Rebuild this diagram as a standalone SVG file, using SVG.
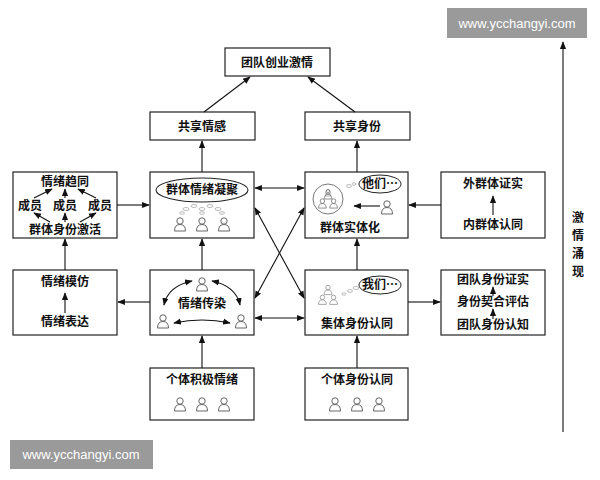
<svg xmlns="http://www.w3.org/2000/svg" width="600" height="480" viewBox="0 0 600 480">
<defs>
<marker id="a" viewBox="0 0 10 10" refX="9" refY="5" markerWidth="7" markerHeight="7" orient="auto-start-reverse"><path d="M0,1 L10,5 L0,9 z" fill="#111"/></marker>
<g id="p" fill="none" stroke="#666" stroke-width="1"><circle cx="0" cy="-4" r="3.2"/><path d="M-5.5,6 Q-5.5,-0.5 0,-0.5 Q5.5,-0.5 5.5,6 z"/></g>
<style>
.b{fill:#fff;stroke:#222;stroke-width:1.2}
.t{font-family:"Noto Sans CJK SC","Noto Sans",sans-serif;font-size:12px;font-weight:bold;fill:#111;text-anchor:middle}
.c line,.c path{stroke:#111;stroke-width:1.1;fill:none;marker-end:url(#a)}
.d{marker-start:url(#a)}
.w{font-family:"Liberation Sans",sans-serif;font-size:13px;fill:#fff;text-anchor:middle}
</style>
</defs>
<rect width="600" height="480" fill="#fff"/>
<g id="top"><rect class="b" x="225" y="48" width="105" height="28"/><text class="t" x="277" y="67">团队创业激情</text></g>
<g id="gxqg"><rect class="b" x="150" y="112" width="105" height="28"/><text class="t" x="202" y="131">共享情感</text></g>
<g id="gxsf"><rect class="b" x="305" y="112" width="105" height="28"/><text class="t" x="357" y="131">共享身份</text></g>
<g id="qxqt"><rect class="b" x="13" y="172" width="104" height="66"/>
<text class="t" x="65" y="186">情绪趋同</text>
<text class="t" x="30" y="210">成员</text><text class="t" x="65" y="210">成员</text><text class="t" x="100" y="210">成员</text>
<text class="t" x="65" y="234">群体身份激活</text>
<g class="c"><line x1="34" y1="198" x2="52" y2="189"/><line x1="65" y1="198" x2="65" y2="189"/><line x1="96" y1="198" x2="78" y2="189"/>
<line x1="50" y1="222" x2="34" y2="213"/><line x1="65" y1="222" x2="65" y2="213"/><line x1="80" y1="222" x2="96" y2="213"/></g></g>
<g id="qtqxnj"><rect class="b" x="150" y="172" width="104" height="66"/>
<ellipse cx="202" cy="190" rx="46" ry="12" fill="none" stroke="#222" stroke-width="1.1"/>
<text class="t" x="202" y="194">群体情绪凝聚</text>
<g fill="none" stroke="#aaa" stroke-width="0.8"><ellipse cx="186" cy="209" rx="3" ry="1.5"/><ellipse cx="182" cy="213" rx="2.5" ry="1.3"/><ellipse cx="202" cy="209" rx="3" ry="1.5"/><ellipse cx="202" cy="213" rx="2.5" ry="1.3"/><ellipse cx="218" cy="209" rx="3" ry="1.5"/><ellipse cx="222" cy="213" rx="2.5" ry="1.3"/><ellipse cx="194" cy="206" rx="3" ry="1.5"/><ellipse cx="210" cy="206" rx="3" ry="1.5"/></g>
<use href="#p" x="180" y="225"/><use href="#p" x="202" y="225"/><use href="#p" x="224" y="225"/></g>
<g id="qtstw"><rect class="b" x="305" y="172" width="103" height="66"/>
<circle cx="328" cy="199" r="15" fill="none" stroke="#777"/>
<use href="#p" x="328" y="193" transform="translate(164 96.5) scale(0.5)"/>
<g transform="translate(328 199) scale(0.7)"><use href="#p" x="0" y="-6"/><use href="#p" x="-8" y="7"/><use href="#p" x="8" y="7"/></g>
<ellipse cx="380" cy="184" rx="21" ry="9" fill="none" stroke="#222"/>
<text class="t" x="380" y="188">他们…</text>
<g fill="none" stroke="#aaa" stroke-width="0.8"><ellipse cx="349" cy="186" rx="2.5" ry="1.5"/><ellipse cx="354" cy="184" rx="2" ry="1.2"/></g>
<use href="#p" x="387" y="208"/>
<g class="c"><line x1="380" y1="206" x2="354" y2="206"/></g>
<text class="t" x="350" y="232">群体实体化</text></g>
<g id="wqtzs"><rect class="b" x="441" y="172" width="104" height="66"/><text class="t" x="493" y="188">外群体证实</text><text class="t" x="493" y="229">内群体认同</text>
<g class="c"><line x1="493" y1="215" x2="493" y2="196"/></g></g>
<g id="qxmf"><rect class="b" x="13" y="270" width="104" height="65"/><text class="t" x="65" y="286">情绪模仿</text><text class="t" x="65" y="326">情绪表达</text>
<g class="c"><line x1="65" y1="313" x2="65" y2="293"/></g></g>
<g id="qxcr"><rect class="b" x="150" y="270" width="104" height="65"/>
<use href="#p" x="202" y="285"/><use href="#p" x="163" y="322"/><use href="#p" x="241" y="322"/>
<text class="t" x="202" y="308">情绪传染</text>
<g class="c"><path class="d" d="M192,281 Q168,286 164,305"/><path class="d" d="M212,281 Q236,286 240,305"/><path class="d" d="M174,323 Q202,317 230,323"/></g></g>
<g id="jtsfrt"><rect class="b" x="305" y="270" width="103" height="65"/>
<ellipse cx="380" cy="285" rx="21" ry="9" fill="none" stroke="#222"/>
<text class="t" x="380" y="289">我们…</text>
<g transform="translate(328 296) scale(0.7)" opacity="0.8"><use href="#p" x="0" y="-8"/><use href="#p" x="-8" y="6"/><use href="#p" x="8" y="6"/></g>
<g fill="none" stroke="#aaa" stroke-width="0.8"><ellipse cx="344" cy="294" rx="2" ry="1.2"/><ellipse cx="350" cy="291" rx="2.5" ry="1.4"/><ellipse cx="356" cy="288" rx="3" ry="1.5"/></g>
<text class="t" x="357" y="328">集体身份认同</text></g>
<g id="tdsf"><rect class="b" x="441" y="270" width="104" height="65"/>
<text class="t" x="493" y="284">团队身份证实</text><text class="t" x="493" y="306">身份契合评估</text><text class="t" x="493" y="329">团队身份认知</text>
<g class="c"><line x1="493" y1="296" x2="493" y2="287"/><line x1="493" y1="319" x2="493" y2="309"/></g></g>
<g id="gtjjqx"><rect class="b" x="150" y="368" width="104" height="52"/><text class="t" x="202" y="384">个体积极情绪</text>
<use href="#p" x="180" y="405"/><use href="#p" x="202" y="405"/><use href="#p" x="224" y="405"/></g>
<g id="gtsfrt"><rect class="b" x="305" y="368" width="103" height="52"/><text class="t" x="357" y="384">个体身份认同</text>
<use href="#p" x="335" y="405"/><use href="#p" x="357" y="405"/><use href="#p" x="379" y="405"/></g>
<g id="connectors" class="c">
<line x1="204" y1="112" x2="250" y2="77"/>
<line x1="355" y1="112" x2="308" y2="77"/>
<line x1="202" y1="172" x2="202" y2="141"/>
<line x1="357" y1="172" x2="357" y2="141"/>
<line x1="117" y1="205" x2="149" y2="205"/>
<line x1="65" y1="270" x2="65" y2="239"/>
<line x1="150" y1="302" x2="118" y2="302"/>
<line x1="202" y1="270" x2="202" y2="239"/>
<line class="d" x1="255" y1="188" x2="304" y2="188"/>
<line class="d" x1="255" y1="318" x2="304" y2="318"/>
<line class="d" x1="255" y1="208" x2="304" y2="298"/>
<line class="d" x1="255" y1="298" x2="304" y2="208"/>
<line x1="357" y1="270" x2="357" y2="239"/>
<line x1="441" y1="205" x2="409" y2="205"/>
<line x1="408" y1="302" x2="440" y2="302"/>
<line x1="202" y1="368" x2="202" y2="336"/>
<line x1="357" y1="368" x2="357" y2="336"/>
<line x1="563" y1="432" x2="563" y2="42"/>
</g>
<g id="label"><text class="t" x="578" y="222">激</text><text class="t" x="578" y="240">情</text><text class="t" x="578" y="258">涌</text><text class="t" x="578" y="276">现</text></g>
<g id="wm"><rect x="447" y="8" width="140" height="30" fill="#9a9a9a"/><text class="w" x="517" y="28">www.ycchangyi.com</text>
<rect x="10" y="440" width="143" height="29" fill="#9a9a9a"/><text class="w" x="81" y="459">www.ycchangyi.com</text></g>
</svg>
